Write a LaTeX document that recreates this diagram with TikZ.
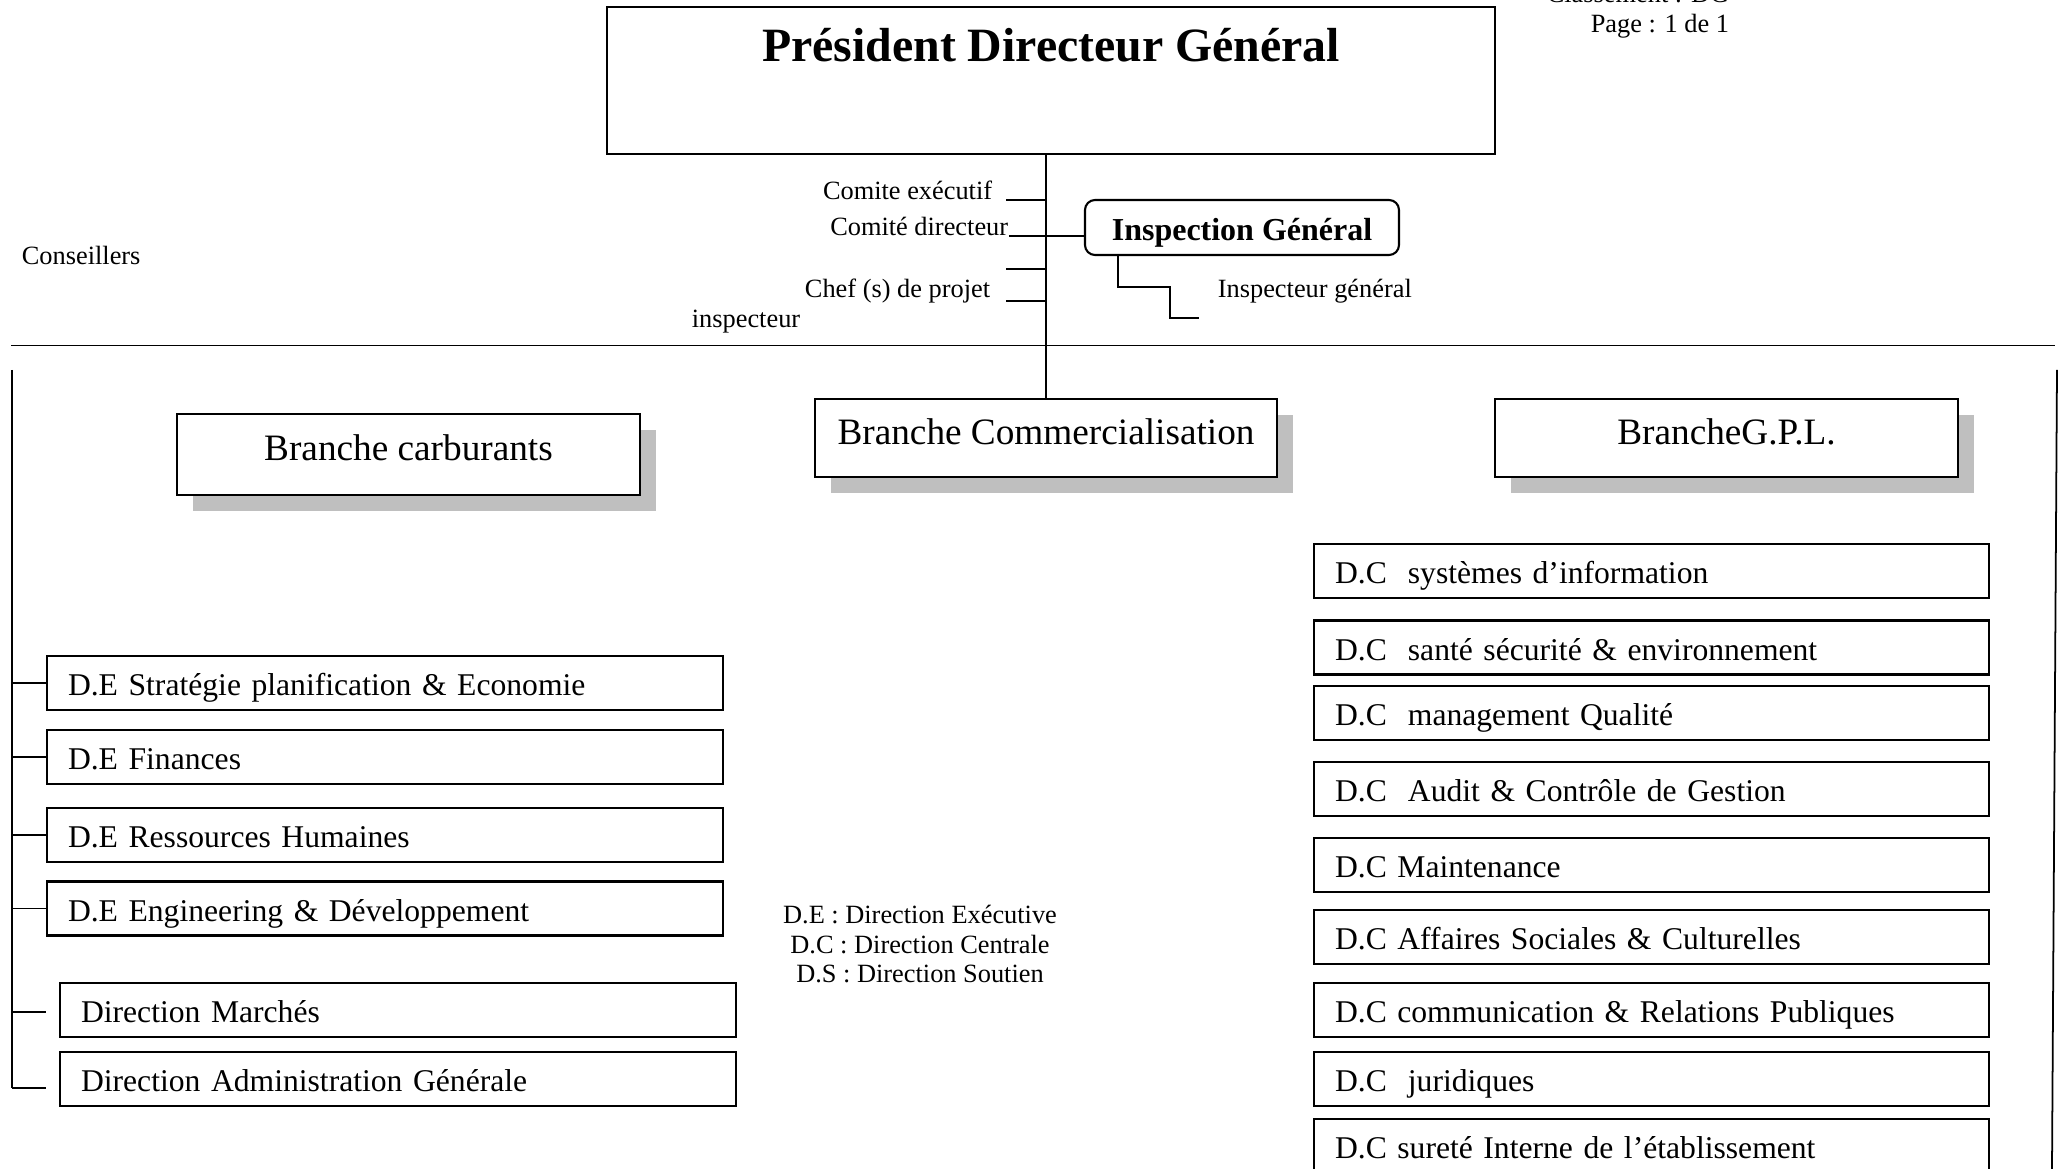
\documentclass[tikz,border=0pt]{standalone}
\usepackage{fontspec}
\setmainfont{Liberation Serif}
\usetikzlibrary{shadows}
\tikzset{pdgbox/.style={draw, line width=0.7pt, minimum width=8.88cm, inner ysep=0.2cm, text height=0.35cm, text depth=0.72cm, font=\fontsize{13.6}{15}\selectfont\bfseries},
brbox/.style={draw, fill=white, line width=0.6pt, minimum width=4.62cm, minimum height=0.78cm, text height=0.25cm, text depth=0.12cm, font=\fontsize{10.6}{12}\selectfont, drop shadow={shadow xshift=0.16cm, shadow yshift=-0.16cm, fill=black!25, opacity=1}},
dirbox/.style={draw, line width=0.6pt, minimum height=0.54cm, text width=6.34cm, inner xsep=0.21cm, text height=0.26cm, text depth=0pt, align=left, font=\fontsize{9}{10}\selectfont},
igbox/.style={draw, line width=0.6pt, rounded corners=0.1cm, minimum width=3.14cm, minimum height=0.55cm, text height=0.27cm, text depth=0pt, font=\fontsize{9.1}{10}\selectfont\bfseries},
petit/.style={inner sep=0pt, font=\fontsize{7.5}{8.5}\selectfont}}

\begin{document}
\begin{tikzpicture}[line width=0.5pt]
\useasboundingbox (0,0) rectangle (20.6,11.69);

\node[pdgbox] (pdg) at (10.51,10.885) {Président Directeur Général};
\node[petit, anchor=base east] (clas) at (17.30,11.66) {Classement : DG};
\node[petit, anchor=base east] (page) at (17.30,11.36) {Page : 1 de 1};

% Comites
\node[petit, anchor=base east] (cex) at (9.93,9.69) {Comite exécutif};
\node[petit, anchor=base east] (cdir) at (10.09,9.33) {Comité directeur};
\node[petit, anchor=base east] (chef) at (9.91,8.71) {Chef (s) de projet};
\node[petit, anchor=base west] (insp) at (6.91,8.41) {inspecteur};
\node[petit, anchor=base west] (cons) at (0.21,9.04) {Conseillers};

% Inspection
\node[igbox] (ig) at (12.42,9.415) {Inspection Général};
\node[petit, anchor=base west] (igen) at (12.17,8.71) {Inspecteur général};

% Branches
\node[brbox, minimum width=4.63cm, minimum height=0.81cm] (bcarb) at (4.085,7.145) {Branche carburants};
\node[brbox] (bcom) at (10.46,7.31) {Branche Commercialisation};
\node[brbox, minimum width=4.63cm] (bgpl) at (17.265,7.31) {BrancheG.P.L.};

\draw (bcom.north) -- (bcom.north |- pdg.south);
\draw ([xshift=1.3mm]cex.base east) -- (cex.base east -| bcom.north);
\draw (cdir.base east) -- (cdir.base east -| ig.west);
\coordinate (tk) at (10.06,9.00);
\draw (tk) -- (tk -| bcom.north);
\draw ([xshift=1.5mm,yshift=-0.3mm]chef.base east) -- ([yshift=-0.3mm]chef.base east -| bcom.north);
\draw ([xshift=3.4mm]ig.south west) |- ++(0.52,-0.31) |- ([shift={(-0.18,-0.2)}]igen.base west);

% separation
\coordinate (hl) at (0.11,8.235);
\coordinate (hr) at (20.55,8.235);
\draw (hl) -- (hr);

% Directions executives
\node[dirbox] (de1) at (3.85,4.86) {D.E Stratégie planification \& Economie};
\node[dirbox] (de2) at (3.85,4.12) {D.E Finances};
\node[dirbox] (de3) at (3.85,3.34) {D.E Ressources Humaines};
\node[dirbox] (de4) at (3.85,2.605) {D.E Engineering \& Développement};
\node[dirbox] (dm) at (3.98,1.59) {Direction Marchés};
\node[dirbox] (dag) at (3.98,0.90) {Direction Administration Générale};

\coordinate (lt) at (0.12,7.99);
\coordinate (lb) at (0.12,0.81);
\draw (lt) -- (lb);
\draw (de1.west) -- (de1.west -| lt);
\draw (de2.west) -- (de2.west -| lt);
\draw (de3.west) -- (de3.west -| lt);
\draw (de4.west) -- (de4.west -| lt);
\draw ([xshift=-1.3mm,yshift=-0.2mm]dm.west) -- ([yshift=-0.2mm]dm.west -| lt);
\draw ([xshift=-1.3mm]dag.west |- lb) -- (lb);

% legende
\node[petit] (leg1) at (9.20,2.45) [anchor=base] {D.E : Direction Exécutive};
\node[petit] (leg2) at (9.20,2.155) [anchor=base] {D.C : Direction Centrale};
\node[petit] (leg3) at (9.20,1.86) [anchor=base] {D.S : Direction Soutien};

% Directions centrales
\node[dirbox, text width=6.33cm] (dc1) at (16.515,5.98) {D.C\ \ systèmes d’information};
\node[dirbox, text width=6.33cm] (dc2) at (16.515,5.215) {D.C\ \ santé sécurité \& environnement};
\node[dirbox, text width=6.33cm] (dc3) at (16.515,4.56) {D.C\ \ management Qualité};
\node[dirbox, text width=6.33cm] (dc4) at (16.515,3.80) {D.C\ \ Audit \& Contrôle de Gestion};
\node[dirbox, text width=6.33cm] (dc5) at (16.515,3.04) {D.C Maintenance};
\node[dirbox, text width=6.33cm] (dc6) at (16.515,2.32) {D.C Affaires Sociales \& Culturelles};
\node[dirbox, text width=6.33cm] (dc7) at (16.515,1.59) {D.C communication \& Relations Publiques};
\node[dirbox, text width=6.33cm] (dc8) at (16.515,0.90) {D.C\ \ juridiques};
\node[dirbox, text width=6.33cm] (dc9) at (16.515,0.23) {D.C sureté Interne de l’établissement};

\coordinate (rt) at (20.57,7.99);
\coordinate (rb) at (20.52,0);
\draw (rt) -- (rb);

\end{tikzpicture}
\end{document}
